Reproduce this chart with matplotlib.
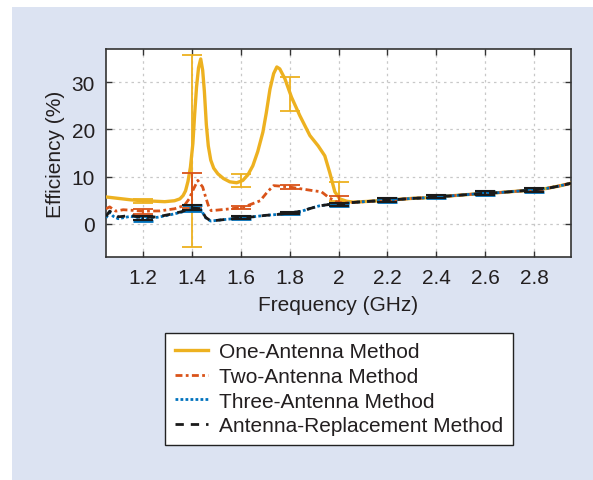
import matplotlib
matplotlib.use("Agg")
import matplotlib.pyplot as plt
from matplotlib.patches import Rectangle

plt.rcParams['font.family'] = ['Liberation Sans', 'DejaVu Sans']

# ---------------- data ----------------
common_freq = [2.10, 2.15, 2.20, 2.25, 2.30, 2.35, 2.40, 2.45, 2.50, 2.55,
               2.60, 2.65, 2.70, 2.75, 2.80, 2.85, 2.90, 2.95]
common_eff = [4.7, 4.85, 5.1, 5.2, 5.4, 5.5, 5.8, 5.9, 6.1, 6.3,
              6.5, 6.6, 6.8, 7.0, 7.2, 7.5, 8.0, 8.6]

one_freq = [1.05, 1.10, 1.15, 1.20, 1.25, 1.29, 1.33, 1.352, 1.365, 1.375,
            1.385, 1.395, 1.405, 1.412, 1.420, 1.428, 1.437, 1.445, 1.452, 1.460,
            1.468, 1.478, 1.490, 1.507, 1.530, 1.556, 1.584, 1.609, 1.63, 1.65,
            1.67, 1.691, 1.705, 1.72, 1.735, 1.748, 1.760, 1.781, 1.808, 1.842,
            1.883, 1.917, 1.944, 1.964, 1.985, 2.005, 2.033, 2.06]
one_eff = [5.7, 5.4, 5.1, 4.9, 4.8, 4.7, 4.9, 5.3, 6.0, 7.0,
           9.0, 12.0, 17.0, 23.0, 29.0, 33.0, 34.9, 32.5, 28.0, 21.0,
           16.5, 13.5, 11.8, 10.6, 9.6, 8.9, 8.7, 9.2, 10.4, 12.3,
           15.3, 19.4, 23.5, 28.5, 31.8, 33.2, 32.8, 30.7, 26.8, 22.9,
           18.7, 16.5, 14.4, 10.9, 6.8, 5.3, 4.8, 4.6]

two_freq = [1.05, 1.065, 1.09, 1.12, 1.15, 1.20, 1.27, 1.33, 1.37, 1.39,
            1.405, 1.425, 1.445, 1.457, 1.47, 1.48, 1.52, 1.56, 1.61, 1.65,
            1.68, 1.71, 1.735, 1.76, 1.80, 1.85, 1.90, 1.93, 1.96, 1.99,
            2.02, 2.06]
two_eff = [3.2, 3.6, 2.7, 3.0, 2.9, 2.7, 2.75, 3.2, 3.9, 5.3,
           7.1, 9.2, 7.8, 5.7, 3.6, 2.8, 3.0, 3.2, 3.5, 4.3,
           4.9, 6.8, 8.1, 8.0, 7.8, 7.4, 7.0, 6.8, 5.6, 4.7,
           4.4, 4.55]

three_freq = [1.05, 1.065, 1.08, 1.10, 1.12, 1.15, 1.20, 1.26, 1.31, 1.36,
              1.40, 1.437, 1.457, 1.478, 1.52, 1.56, 1.60, 1.65, 1.70, 1.75,
              1.80, 1.85, 1.88, 1.92, 1.96, 2.00, 2.05]
three_eff = [1.3, 2.4, 1.6, 1.1, 1.3, 1.6, 1.2, 1.4, 1.9, 2.5,
             3.3, 3.1, 1.3, 0.6, 0.85, 1.05, 1.3, 1.5, 1.8, 2.0,
             2.3, 2.7, 3.2, 3.8, 4.1, 4.1, 4.5]

repl_freq = [1.05, 1.065, 1.08, 1.10, 1.12, 1.15, 1.20, 1.26, 1.31, 1.36,
             1.40, 1.437, 1.457, 1.478, 1.52, 1.56, 1.60, 1.65, 1.70, 1.75,
             1.80, 1.85, 1.88, 1.92, 1.96, 2.00, 2.05]
repl_eff = [1.6, 2.7, 2.2, 1.5, 1.6, 1.8, 1.3, 1.5, 2.0, 2.6,
            3.4, 3.2, 1.4, 0.6, 0.85, 1.05, 1.3, 1.5, 1.8, 2.0,
            2.3, 2.7, 3.2, 3.8, 4.1, 4.1, 4.5]

err_freq = [1.2, 1.4, 1.6, 1.8, 2.0, 2.2, 2.4, 2.6, 2.8]
one_err_mean = [4.9, 15.4, 9.25, 27.4, 6.9, 5.1, 5.8, 6.5, 7.2]
one_err = [0.4, 20.3, 1.35, 3.6, 2.0, 0.3, 0.3, 0.3, 0.3]
two_err_mean = [2.7, 7.0, 3.4, 7.8, 5.0, 5.1, 5.8, 6.5, 7.2]
two_err = [0.5, 3.7, 0.3, 0.5, 1.0, 0.3, 0.3, 0.3, 0.3]
three_err_mean = [1.2, 3.3, 1.3, 2.3, 4.1, 5.1, 5.8, 6.5, 7.2]
three_err = [0.5, 0.6, 0.3, 0.3, 0.4, 0.4, 0.4, 0.4, 0.4]
repl_err_mean = [1.3, 3.4, 1.3, 2.3, 4.1, 5.1, 5.8, 6.5, 7.2]
repl_err = [0.4, 0.5, 0.3, 0.3, 0.4, 0.4, 0.4, 0.4, 0.4]

labels = ['One-Antenna Method', 'Two-Antenna Method',
          'Three-Antenna Method', 'Antenna-Replacement Method']
x_ticks = [1.2, 1.4, 1.6, 1.8, 2.0, 2.2, 2.4, 2.6, 2.8]
x_tick_labels = ['1.2', '1.4', '1.6', '1.8', '2', '2.2', '2.4', '2.6', '2.8']
y_ticks = [0, 10, 20, 30]

# ---------------- figure ----------------
W, H = 593, 481
FS = 15
fig = plt.figure(figsize=(W / 100, H / 100), dpi=100)
fig.patch.set_facecolor('white')
bg = Rectangle((12 / W, 0), 1 - 12 / W, 1 - 8 / H, transform=fig.transFigure,
               facecolor='#dce3f2', edgecolor='none', zorder=-10)
fig.patches.append(bg)

ax = fig.add_axes([106 / W, 1 - 258 / H, (571 - 106) / W, (258 - 50) / H])
ax.set_zorder(1)
ax.set_facecolor('white')

c_one = '#EDB120'
c_two = '#D95319'
c_three = '#0072BD'
c_repl = '#1a1a1a'

f1 = one_freq + common_freq[1:]
e1 = one_eff + common_eff[1:]
f2 = two_freq + common_freq[1:]
e2 = two_eff + common_eff[1:]
f3 = three_freq + common_freq
e3 = three_eff + common_eff
f4 = repl_freq + common_freq
e4 = repl_eff + common_eff

l1, = ax.plot(f1, e1, color=c_one, lw=2.4, ls='-', zorder=3)
l2, = ax.plot(f2, e2, color=c_two, lw=2.0, ls=(0, (2.5, 1.2, 1, 1.2)), zorder=4)
l3, = ax.plot(f3, e3, color=c_three, lw=2.0, ls=(0, (1, 0.8)), zorder=5)
l4, = ax.plot(f4, e4, color=c_repl, lw=2.0, ls=(0, (3.0, 2.5)), zorder=6)

ax.errorbar(err_freq, one_err_mean, yerr=one_err, fmt='none', ecolor=c_one,
            elinewidth=1.3, capsize=7, capthick=1.3, zorder=3)
ax.errorbar(err_freq, two_err_mean, yerr=two_err, fmt='none', ecolor=c_two,
            elinewidth=1.3, capsize=7, capthick=1.3, zorder=4)
ax.errorbar(err_freq, three_err_mean, yerr=three_err, fmt='none', ecolor=c_three,
            elinewidth=1.3, capsize=7, capthick=2.0, zorder=5)
ax.errorbar(err_freq, repl_err_mean, yerr=repl_err, fmt='none', ecolor=c_repl,
            elinewidth=1.3, capsize=7, capthick=1.5, zorder=6)

ax.set_xlim(1.05, 2.95)
ax.set_ylim(-7, 37)
ax.set_xticks(x_ticks)
ax.set_xticklabels(x_tick_labels)
ax.set_yticks(y_ticks)
ax.grid(True, ls=(0, (2, 3)), color='#c8c8c8', lw=0.9)
ax.set_axisbelow(True)
ax.tick_params(direction='in', top=True, right=True, length=4, width=1,
               colors='#333333', labelsize=FS, labelcolor='#231f20', pad=8)
for s in ax.spines.values():
    s.set_color('#333333')
    s.set_linewidth(1.2)

ax.set_xlabel('Frequency (GHz)', fontsize=FS, color='#231f20', labelpad=6)
ax.set_ylabel('Efficiency (%)', fontsize=FS, color='#231f20', labelpad=5)

leg = fig.legend([l1, l2, l3, l4], labels, loc='upper center',
                 bbox_to_anchor=(339 / W, 1 - 334 / H), borderaxespad=0,
                 fontsize=FS, frameon=True, fancybox=False, framealpha=1,
                 handlelength=1.6, handletextpad=0.55, labelspacing=0.27,
                 borderpad=0.45)
leg.get_frame().set_edgecolor('#222222')
leg.get_frame().set_linewidth(1.0)
for t in leg.get_texts():
    t.set_color('#231f20')

fig.savefig('out.png', dpi=100)
